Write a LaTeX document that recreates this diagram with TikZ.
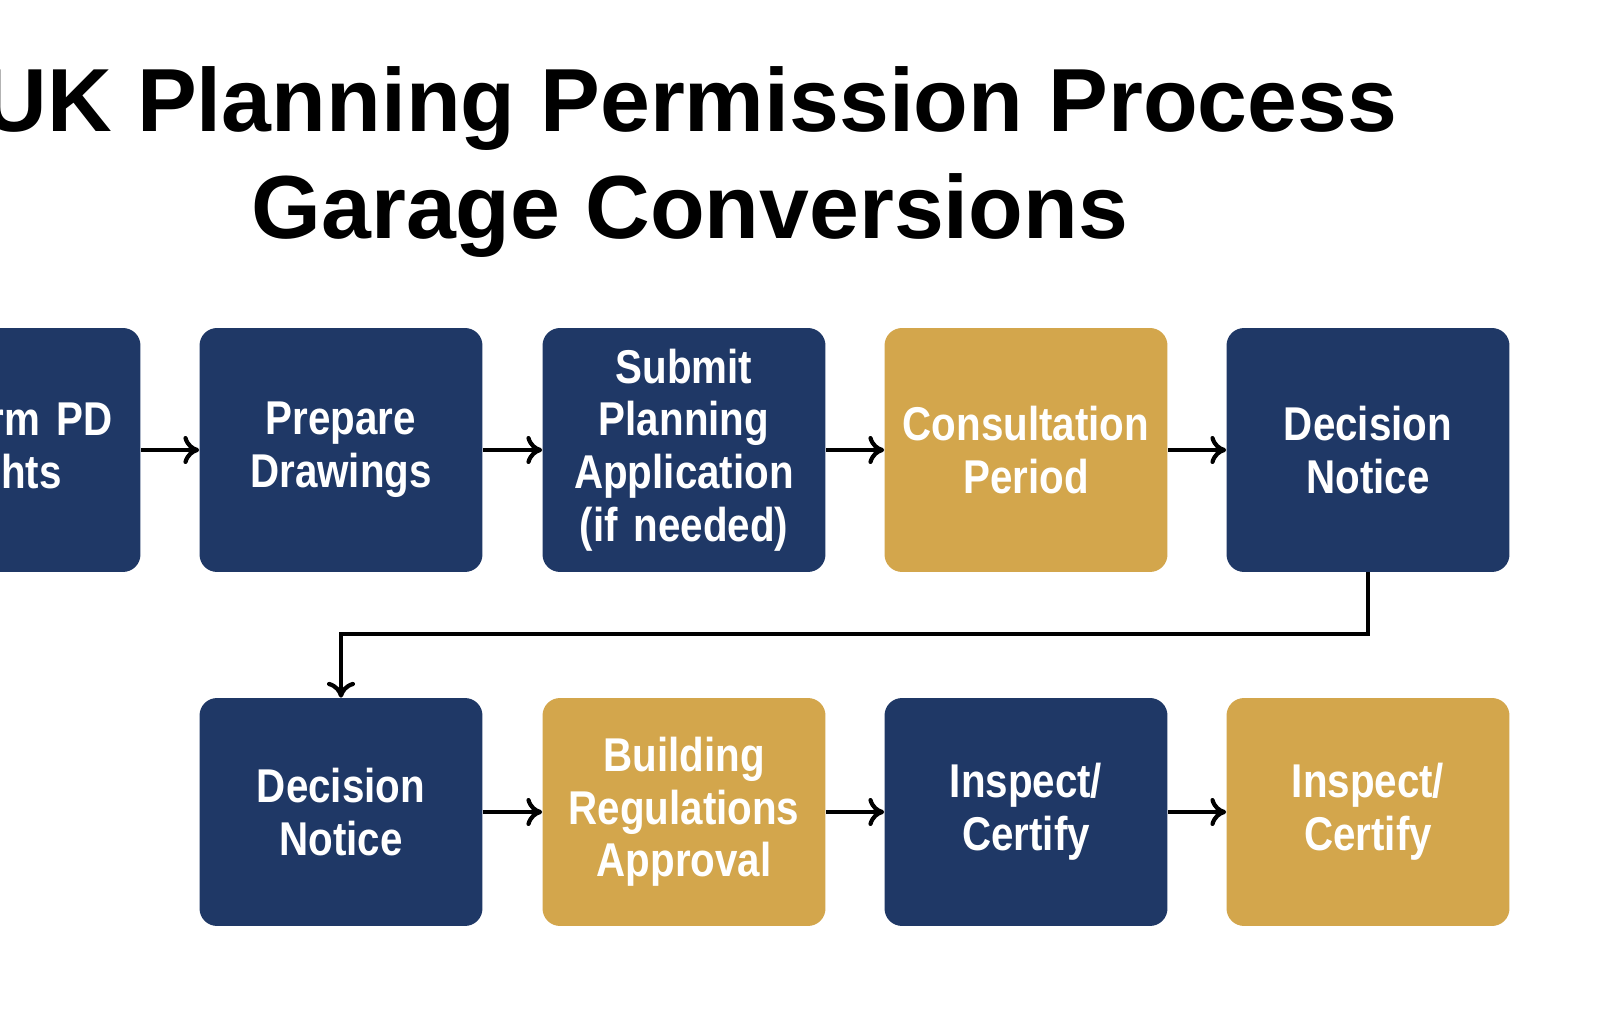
\documentclass[tikz,border=0pt]{standalone}
\usepackage{fontspec}
\setmainfont{Liberation Sans}
\newfontfamily\narrowfont[FakeStretch=0.85]{Liberation Sans}
\usetikzlibrary{arrows.meta}
\definecolor{navy}{RGB}{31,56,102}
\definecolor{ochre}{RGB}{211,166,76}
\tikzset{
  stage/.style={rounded corners=0.35cm, minimum width=5.66cm, text width=5.5cm,
    inner xsep=0pt, align=center, text=white,
    font=\narrowfont\fontsize{27}{30}\selectfont\bfseries},
  navystage/.style={stage, fill=navy},
  ochrestage/.style={stage, fill=ochre},
  link/.style={line width=2.4pt, -{To[length=9pt,width=16pt]}},
}
\begin{document}
\begin{tikzpicture}[x=0.02cm, y=-0.02cm]
\useasboundingbox[fill=white] (0,0) rectangle (1607,1016);
%
\node[font=\fontsize{51}{61}\selectfont\bfseries, align=center] (title) at (690,162)
  {UK Planning Permission Process\\Garage Conversions};
%
\node[navystage, minimum height=4.88cm] (pd)   at (-1,450)  {Confirm PD\\Rights};
\node[navystage, minimum height=4.88cm] (draw) at (341,450) {Prepare\\Drawings};
\node[navystage, minimum height=4.88cm] (sub)  at (684,450) {Submit\\Planning\\Application\\(if needed)};
\node[ochrestage, minimum height=4.88cm] (cons) at (1026,450) {Consultation\\Period};
\node[navystage, minimum height=4.88cm] (dec)  at (1368,450) {Decision\\Notice};
%
\node[navystage, minimum height=4.56cm] (dec2) at (341,812)  {Decision\\Notice};
\node[ochrestage, minimum height=4.56cm] (breg) at (684,812)  {Building\\Regulations\\Approval};
\node[navystage, minimum height=4.56cm] (insp) at (1026,812) {Inspect/\\Certify};
\node[ochrestage, minimum height=4.56cm] (cert) at (1368,812) {Inspect/\\Certify};
%
\draw[link] (pd) -- (draw);
\draw[link] (draw) -- (sub);
\draw[link] (sub) -- (cons);
\draw[link] (cons) -- (dec);
\draw[link] (dec.south) -- ++(0,62) -| (dec2.north);
\draw[link] (dec2) -- (breg);
\draw[link] (breg) -- (insp);
\draw[link] (insp) -- (cert);
%
\end{tikzpicture}
\end{document}
